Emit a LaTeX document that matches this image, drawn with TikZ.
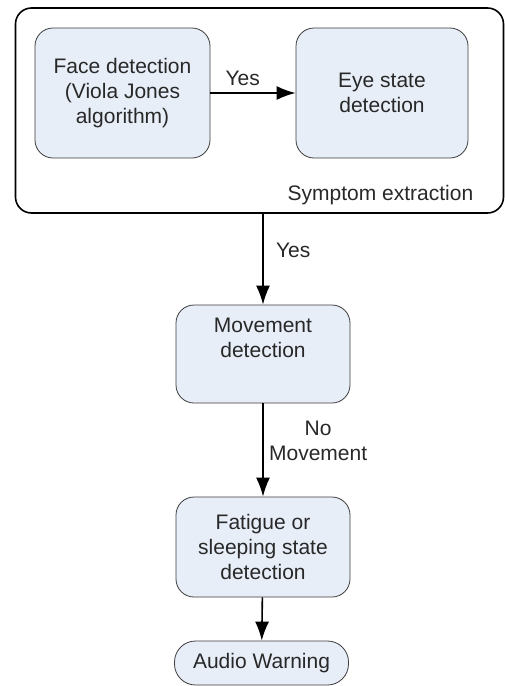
\documentclass[tikz,border=0pt]{standalone}
\usepackage{fontspec}
\setmainfont{Liberation Sans}
\usetikzlibrary{arrows.meta}
\definecolor{boxfill}{RGB}{232,238,248}
\definecolor{boxline}{RGB}{60,60,60}
\definecolor{txt}{RGB}{40,40,40}
\begin{document}
\begin{tikzpicture}
  [x=1pt,y=-1pt,
  font=\fontsize{21}{25}\selectfont,
  txt/.style={text=txt,align=center},
  stage/.style={draw=boxline,fill=boxfill,rounded corners=18pt,thick,txt,inner sep=0pt},
  group/.style={draw=black,rounded corners=16pt,line width=1.6pt},
  flow/.style={-{Latex[length=19pt,width=14pt]},line width=1.6pt}]

  \useasboundingbox (0,0) rectangle (505,686);

  \node[group,minimum width=488pt,minimum height=205pt] (symptom) at (259.5,110.5) {};
  \node[txt] (symlabel) at (380.5,195) {Symptom extraction};

  \node[stage,minimum width=175pt,minimum height=130pt] (face) at (122.5,93)
    {Face detection\\(Viola Jones\\algorithm)};
  \node[stage,minimum width=172pt,minimum height=130pt] (eye) at (382,93)
    {Eye state\\detection};

  \node[stage,minimum width=174pt,minimum height=98pt] (move) at (263,354)
    {Movement\\detection\\\strut};
  \node[stage,minimum width=174pt,minimum height=100pt] (fatigue) at (263,547)
    {Fatigue or\\sleeping state\\detection};
  \node[stage,rounded corners=21pt,minimum width=174pt,minimum height=44pt] (audio) at (261.5,663)
    {Audio Warning};

  \draw[flow] (face) -- node[txt,above=3pt,pos=0.38]{Yes} (eye);
  \draw[flow] (symptom.south -| move) -- node[txt,right=9pt,pos=0.4]{Yes} (move);
  \draw[flow] (move) -- node[txt,right=2pt,pos=0.4]{No\\Movement} (fatigue);
  \draw[flow] (fatigue) -- (audio);

\end{tikzpicture}
\end{document}
